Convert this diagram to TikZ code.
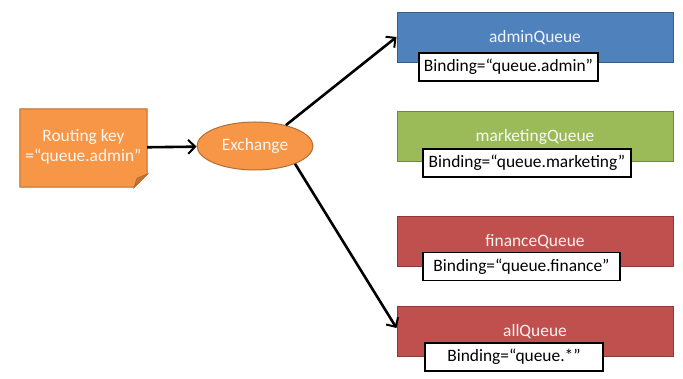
\documentclass[tikz,border=0pt]{standalone}
\usepackage{fontspec}
\setmainfont{Carlito}
\usetikzlibrary{arrows.meta,positioning,shapes.geometric}
\definecolor{forange}{HTML}{F79646}
\definecolor{forangedk}{HTML}{B66D31}
\definecolor{fblue}{HTML}{4F81BD}
\definecolor{fbluedk}{HTML}{385D8A}
\definecolor{fgreen}{HTML}{9BBB59}
\definecolor{fgreendk}{HTML}{71893F}
\definecolor{fred}{HTML}{C0504D}
\definecolor{freddk}{HTML}{8C3836}
\tikzset{
  queue/.style   = {draw=#1dk, fill=#1, line width=1pt, rectangle,
                    minimum width=276pt, minimum height=50pt,
                    text=white!92!#1},
  binding/.style = {draw, fill=white, line width=1.5pt, rectangle,
                    minimum height=28pt, inner xsep=2pt},
  sig/.style     = {-{Straight Barb[length=7pt,width=14pt,line width=2pt]},
                    line width=2.6pt},
}
\begin{document}
\begin{tikzpicture}[x=1pt,y=-1pt,font=\fontsize{17.4}{20}\selectfont]
\useasboundingbox (0,0) rectangle (683,379);
% routing key note with folded corner
\node[minimum width=127pt, minimum height=78pt] (key) at (83.5,148) {};
\draw[draw=forangedk, fill=forange, line width=1pt]
  (key.north west) -- (key.north east) -- ([yshift=13pt]key.south east)
  -- ([xshift=-13pt]key.south east) -- (key.south west) -- cycle;
\draw[draw=forangedk, fill=forangedk!80!forange, line width=1pt]
  ([yshift=13pt]key.south east) -- ([xshift=-13pt]key.south east)
  -- ([xshift=-10pt,yshift=9pt]key.south east) -- cycle;
\node[align=center, text=white!92!forange] at ([yshift=1pt]key) {Routing key\\=“queue.admin”};
% exchange
\node[ellipse, draw=forangedk, fill=forange, line width=1pt, text=white!92!forange,
      minimum width=116pt, minimum height=48pt, inner sep=0pt]
  (ex) at (255,146) {Exchange};
% queues
\node[queue=fblue]  (admin) at (535,38)  {adminQueue};
\node[queue=fgreen] (mkt)   at (535,137) {marketingQueue};
\node[queue=fred]   (fin)   at (535,241.5) {financeQueue};
\node[queue=fred]   (all)   at (535,332) {allQueue};
% bindings
\node[binding, minimum width=179pt] (badmin) at (508.5,67)  {Binding=“queue.admin”};
\node[binding, minimum width=208pt] (bmkt)   at (527,163)   {Binding=“queue.marketing”};
\node[binding, minimum width=197pt] (bfin)   at (521.5,266.5) {Binding=“queue.finance”};
\node[binding, minimum width=178pt] (ball)   at (514,357)   {Binding=“queue.*”};
% arrows
\draw[sig] (key) -- (ex);
\draw[sig] (ex.34) -- ([yshift=1pt]admin.west);
\draw[sig] (ex.-24) -- ([yshift=4pt]all.west);
\end{tikzpicture}
\end{document}
